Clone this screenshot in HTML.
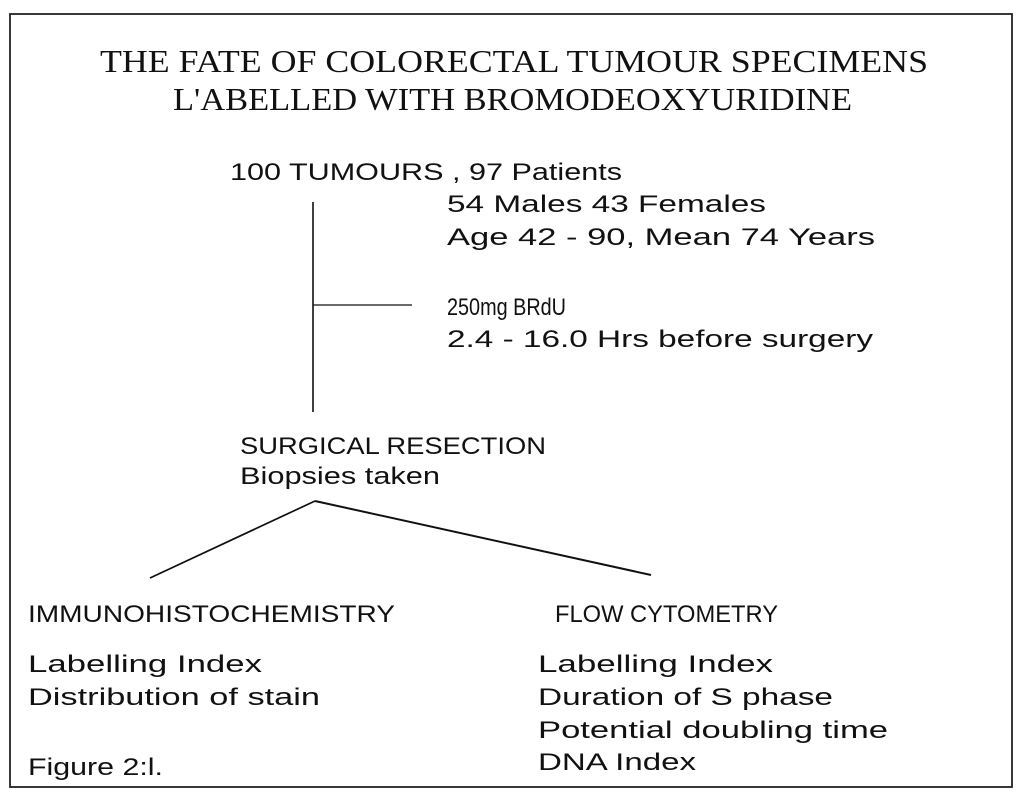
<!DOCTYPE html>
<html><head><meta charset="utf-8"><style>
html,body{margin:0;padding:0;background:#fff;}
svg{display:block;}
.t{font-family:"Liberation Serif",serif;font-size:32px;fill:#111;}
.b{font-family:"Liberation Sans",sans-serif;font-size:24px;fill:#111;}
</style></head><body>
<svg width="1024" height="812" viewBox="0 0 1024 812" xmlns="http://www.w3.org/2000/svg">
<rect x="10" y="14" width="1002" height="773" fill="none" stroke="#222" stroke-width="1.8"/>
<text class="t" x="100" y="72" textLength="828" lengthAdjust="spacingAndGlyphs">THE FATE OF COLORECTAL TUMOUR SPECIMENS</text>
<text class="t" x="173" y="110" textLength="679" lengthAdjust="spacingAndGlyphs">L'ABELLED WITH BROMODEOXYURIDINE</text>
<text class="b" x="230" y="180" textLength="392" lengthAdjust="spacingAndGlyphs">100 TUMOURS , 97 Patients</text>
<text class="b" x="447" y="212" textLength="319" lengthAdjust="spacingAndGlyphs">54 Males  43 Females</text>
<text class="b" x="447" y="245" textLength="428" lengthAdjust="spacingAndGlyphs">Age 42 - 90, Mean 74 Years</text>
<text class="b" x="447" y="315" textLength="119" lengthAdjust="spacingAndGlyphs">250mg BRdU</text>
<text class="b" x="447" y="347" textLength="426" lengthAdjust="spacingAndGlyphs">2.4 - 16.0 Hrs before surgery</text>
<line x1="313" y1="202" x2="313" y2="412" stroke="#111" stroke-width="1.6"/>
<line x1="313" y1="305" x2="412" y2="305" stroke="#111" stroke-width="1.3"/>
<text class="b" x="240" y="454" textLength="306" lengthAdjust="spacingAndGlyphs">SURGICAL RESECTION</text>
<text class="b" x="240" y="484" textLength="200" lengthAdjust="spacingAndGlyphs">Biopsies taken</text>
<line x1="315" y1="501" x2="150" y2="578" stroke="#111" stroke-width="1.7"/>
<line x1="315" y1="501" x2="651" y2="575" stroke="#111" stroke-width="2"/>
<text class="b" x="28" y="622" textLength="367" lengthAdjust="spacingAndGlyphs">IMMUNOHISTOCHEMISTRY</text>
<text class="b" x="555" y="622" textLength="223" lengthAdjust="spacingAndGlyphs">FLOW CYTOMETRY</text>
<text class="b" x="28" y="672" textLength="234" lengthAdjust="spacingAndGlyphs">Labelling Index</text>
<text class="b" x="28" y="705" textLength="292" lengthAdjust="spacingAndGlyphs">Distribution of stain</text>
<text class="b" x="28" y="775" textLength="135" lengthAdjust="spacingAndGlyphs">Figure 2:l.</text>
<text class="b" x="538" y="672" textLength="235" lengthAdjust="spacingAndGlyphs">Labelling Index</text>
<text class="b" x="538" y="705" textLength="295" lengthAdjust="spacingAndGlyphs">Duration of S phase</text>
<text class="b" x="538" y="738" textLength="350" lengthAdjust="spacingAndGlyphs">Potential doubling time</text>
<text class="b" x="538" y="770" textLength="158" lengthAdjust="spacingAndGlyphs">DNA Index</text>
</svg>
</body></html>
